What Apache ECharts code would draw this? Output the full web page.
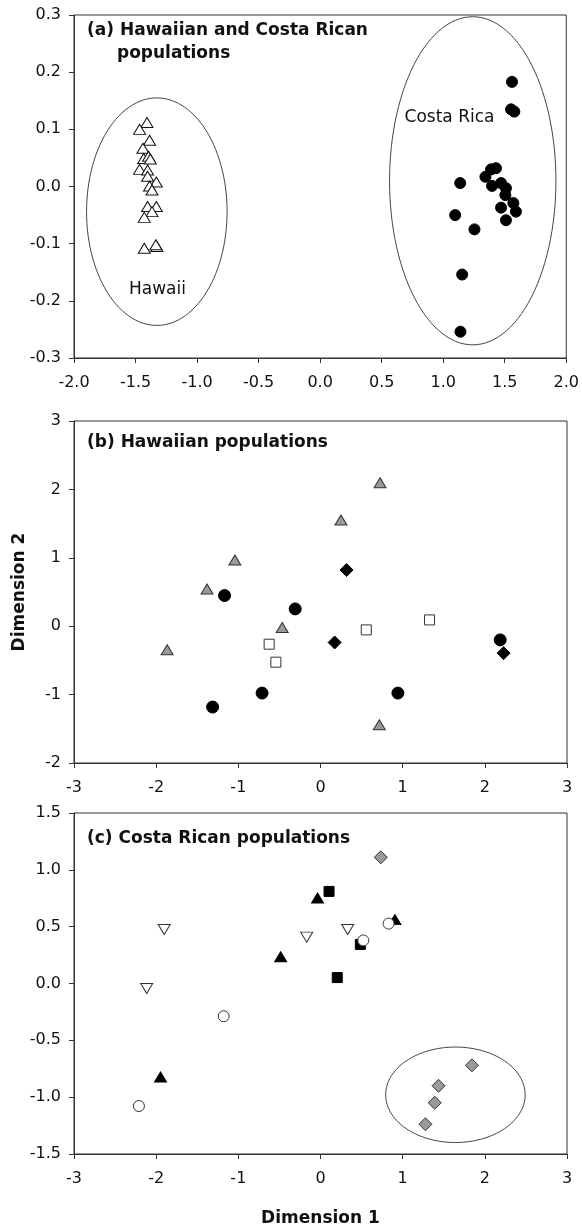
<!DOCTYPE html>
<html>
<head>
<meta charset="utf-8">
<script src="https://cdn.jsdelivr.net/npm/echarts@6/dist/echarts.min.js"></script>
<style>
  html, body { margin: 0; padding: 0; background: #fff; }
  #chart { width: 582px; height: 1228px; }
</style>
</head>
<body>
<div id="chart"></div>
<script>
  // (a) both regions
  var hawaiiPts = [[-1.407, 0.112], [-1.467, 0.100], [-1.386, 0.081], [-1.440, 0.067], [-1.434, 0.049],
    [-1.394, 0.053], [-1.380, 0.048], [-1.467, 0.030], [-1.402, 0.029], [-1.402, 0.018],
    [-1.331, 0.008], [-1.386, 0.001], [-1.366, -0.006], [-1.402, -0.035], [-1.331, -0.035],
    [-1.366, -0.044], [-1.429, -0.054], [-1.429, -0.108], [-1.326, -0.105], [-1.335, -0.102]]
  var costaPts = [[1.559, 0.183], [1.551, 0.135], [1.578, 0.131], [1.138, 0.006], [1.343, 0.017],
    [1.389, 0.030], [1.429, 0.032], [1.397, 0.001], [1.470, 0.006], [1.510, -0.003],
    [1.505, -0.015], [1.570, -0.029], [1.591, -0.044], [1.470, -0.037], [1.510, -0.059],
    [1.097, -0.050], [1.254, -0.075], [1.154, -0.154], [1.140, -0.254]]
  // ellipse: cx, cy, rx, ry
  var ellipsesA = [[-1.327, -0.044, 0.571, 0.199], [1.240, 0.010, 0.676, 0.287]]
  var labelsA = [[1.051, 0.120, 'Costa Rica'], [-1.322, -0.181, 'Hawaii']]

  // (b) Hawaiian populations
  var hGrayTri = [[0.725, 2.097], [0.249, 1.552], [-1.042, 0.968], [-1.381, 0.545], [-0.466, -0.02],
    [-1.866, -0.345], [0.716, -1.44]]
  var hBlackCircle = [[-1.168, 0.448], [-0.308, 0.253], [-0.711, -0.978], [-1.313, -1.182],
    [0.942, -0.978], [2.187, -0.20]]
  var hBlackDiamond = [[0.317, 0.822], [0.172, -0.238], [2.228, -0.394]]
  var hOpenSquare = [[-0.625, -0.263], [-0.543, -0.526], [0.557, -0.054], [1.327, 0.092]]

  // (c) Costa Rican populations
  var cGrayDiamond = [[0.734, 1.11], [1.843, -0.72], [1.436, -0.90], [1.390, -1.049], [1.277, -1.238]]
  var cBlackSquare = [[0.104, 0.81], [0.204, 0.052], [0.485, 0.344]]
  var cBlackTri = [[-0.036, 0.752], [0.906, 0.562], [-0.485, 0.236], [-1.947, -0.822]]
  var cOpenDownTri = [[-1.902, 0.475], [-2.115, -0.044], [-0.168, 0.408], [0.331, 0.475]]
  var cOpenCircle = [[0.829, 0.527], [0.521, 0.379], [-1.178, -0.288], [-2.210, -1.078]]
  var ellipsesC = [[1.642, -0.979, 0.849, 0.420]]

  var FONT = 'DejaVu Sans'
  var LINE = '#333'

  function xAxisOf(idx, min, max, step, digits, extra) {
    var ax = {
      type: 'value', gridIndex: idx, min: min, max: max, interval: step,
      axisLine: { show: true, onZero: false, lineStyle: { color: LINE, width: 1 } },
      axisTick: { show: true, length: 5, lineStyle: { color: LINE } },
      splitLine: { show: false },
      axisLabel: {
        fontFamily: FONT, fontSize: 16, color: '#111', margin: 17,
        formatter: function (v) { return v.toFixed(digits) }
      }
    }
    return Object.assign(ax, extra || {})
  }
  function yAxisOf(idx, min, max, step, digits, extra) {
    var ax = {
      type: 'value', gridIndex: idx, min: min, max: max, interval: step,
      axisLine: { show: true, onZero: false, lineStyle: { color: LINE, width: 1 } },
      axisTick: { show: true, length: 5, lineStyle: { color: LINE } },
      splitLine: { show: false },
      axisLabel: {
        fontFamily: FONT, fontSize: 16, color: '#111', margin: 13,
        formatter: function (v) { return v.toFixed(digits) }
      }
    }
    return Object.assign(ax, extra || {})
  }

  function ellipseSeries(idx, list) {
    return {
      type: 'custom', xAxisIndex: idx, yAxisIndex: idx, silent: true, clip: false,
      encode: { x: 0, y: 1 },
      data: list,
      renderItem: function (params, api) {
        var cx = api.value(0), cy = api.value(1), rx = api.value(2), ry = api.value(3)
        var pts = []
        for (var i = 0; i < 120; i++) {
          var t = i / 120 * Math.PI * 2
          pts.push(api.coord([cx + rx * Math.cos(t), cy + ry * Math.sin(t)]))
        }
        return {
          type: 'polygon', shape: { points: pts },
          style: { fill: 'none', stroke: '#444', lineWidth: 1 }
        }
      },
      z: 1
    }
  }

  function textSeries(idx, list) {
    return {
      type: 'custom', xAxisIndex: idx, yAxisIndex: idx, silent: true, clip: false,
      encode: { x: 0, y: 1 },
      data: list,
      renderItem: function (params, api) {
        var p = api.coord([api.value(0), api.value(1)])
        return {
          type: 'text', x: p[0], y: p[1],
          style: {
            text: list[params.dataIndex][2], fontFamily: FONT, fontSize: 17,
            fill: '#111', align: 'center', verticalAlign: 'middle'
          }
        }
      }
    }
  }

  function scatter(idx, data, symbol, size, fill, border, rotate) {
    return {
      type: 'scatter', xAxisIndex: idx, yAxisIndex: idx, data: data,
      symbol: symbol, symbolSize: size, symbolRotate: rotate || 0,
      itemStyle: { color: fill, borderColor: border, borderWidth: 1, opacity: 1 },
      z: 3
    }
  }

  var chart = echarts.init(document.getElementById('chart'))
  var titleStyle = { fontFamily: FONT, fontSize: 17, fontWeight: 'bold', fill: '#111' }

  chart.setOption({
    animation: false,
    backgroundColor: '#fff',
    grid: [
      { left: 74, right: 15, top: 15, height: 343, show: true, borderColor: LINE, borderWidth: 1 },
      { left: 74, right: 15, top: 421, height: 342, show: true, borderColor: LINE, borderWidth: 1 },
      { left: 74, right: 15, top: 813, height: 342, show: true, borderColor: LINE, borderWidth: 1 }
    ],
    xAxis: [
      xAxisOf(0, -2, 2, 0.5, 1),
      xAxisOf(1, -3, 3, 1, 0),
      xAxisOf(2, -3, 3, 1, 0, {
        name: 'Dimension 1', nameLocation: 'middle', nameGap: 56,
        nameTextStyle: { fontFamily: FONT, fontSize: 17, fontWeight: 'bold', color: '#111' }
      })
    ],
    yAxis: [
      yAxisOf(0, -0.3, 0.3, 0.1, 1),
      yAxisOf(1, -2, 3, 1, 0, {
        name: 'Dimension 2', nameLocation: 'middle', nameGap: 46, nameRotate: 90,
        nameTextStyle: { fontFamily: FONT, fontSize: 17, fontWeight: 'bold', color: '#111' }
      }),
      yAxisOf(2, -1.5, 1.5, 0.5, 1)
    ],
    graphic: [
      { type: 'text', left: 87, top: 22, style: Object.assign({ text: '(a) Hawaiian and Costa Rican' }, titleStyle) },
      { type: 'text', left: 117, top: 45, style: Object.assign({ text: 'populations' }, titleStyle) },
      { type: 'text', left: 87, top: 434, style: Object.assign({ text: '(b) Hawaiian populations' }, titleStyle) },
      { type: 'text', left: 87, top: 830, style: Object.assign({ text: '(c) Costa Rican populations' }, titleStyle) }
    ],
    series: [
      ellipseSeries(0, ellipsesA),
      textSeries(0, labelsA),
      scatter(0, hawaiiPts, 'triangle', [12, 10], '#fff', '#111'),
      scatter(0, costaPts, 'circle', 11, '#000', '#000'),

      scatter(1, hGrayTri, 'triangle', [12, 10], '#9a9a9a', '#333'),
      scatter(1, hBlackCircle, 'circle', 12, '#000', '#000'),
      scatter(1, hBlackDiamond, 'diamond', 13, '#000', '#000'),
      scatter(1, hOpenSquare, 'rect', 10, '#fff', '#333'),

      ellipseSeries(2, ellipsesC),
      scatter(2, cGrayDiamond, 'diamond', 13, '#9a9a9a', '#333'),
      scatter(2, cBlackSquare, 'rect', 10, '#000', '#000'),
      scatter(2, cBlackTri, 'triangle', [12, 10], '#000', '#000'),
      scatter(2, cOpenDownTri, 'triangle', [12, 10], '#fff', '#333', 180),
      scatter(2, cOpenCircle, 'circle', 11, '#fff', '#333')
    ]
  })
</script>
</body>
</html>
